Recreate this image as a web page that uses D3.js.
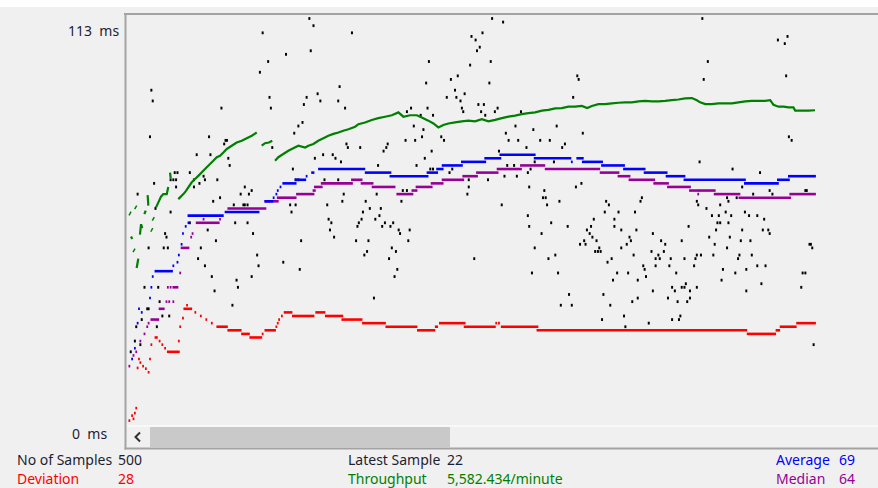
<!DOCTYPE html>
<html>
<head>
<meta charset="utf-8">
<script src="https://cdn.jsdelivr.net/npm/d3@7/dist/d3.min.js"></script>
<style>
  html, body { margin: 0; padding: 0; background: #f0f0f0; }
  svg { display: block; }
  text { font-family: "Noto Sans", "Liberation Sans", sans-serif; font-size: 14px; }
</style>
</head>
<body>
<svg id="chart" width="878" height="488"></svg>
<script>
// ---- data (sample index, response time in ms) ----
const sampleCount = 500;
const yMax = 113;
const yLabels = ["113\u00a0\u00a0ms", "0\u00a0\u00a0ms"];

// individual response times [sample, ms]
const samples = [
  [132,113],[135,111],[98,109],[163,109],[133,104],[115,103],[102,101],[96,98],[154,94],[17,93],
  [18,90],[103,91],[130,91],[138,92],[140,90],[153,90],[128,89],[104,88],[68,88],[158,88],
  [127,84],[124,83],[121,81],[16,80],[59,80],[71,79],[72,79],[70,78],[105,77],[159,78],
  [160,77],[50,75],[60,75],[73,74],[74,72],[142,75],[149,75],[151,74],[136,74],[155,73],
  [120,71],[34,70],[36,70],[31,68],[33,68],[45,70],[55,69],[56,68],[52,67],[48,68],
  [35,68],[65,68],[35,66],[19,67],[48,66],[122,68],[124,68],[143,68],[153,68],[7,64],
  [85,66],[90,65],[82,64],[88,64],[67,63],[62,62],[157,64],[156,62],[84,61],[85,61],
  [77,61],[87,61],[118,61],[122,61],[145,61],[20,60],[119,59],[31,59],[146,57],
  [27,53],[28,52],[45,56],[58,54],[78,56],[87,56],[91,53],[64,51],[26,49],[29,49],
  [15,49],[53,49],[51,46],[56,44],[94,47],[95,44],[90,41],[61,41],[79,40],[80,38],
  [63,37],[76,33],[12,38],[22,38],[23,34],[14,32],[15,32],[10,29],[25,30],[30,30],
  [6,27],[21,27],[2,20],[5,23],[9,22],[113,45],[125,43],[126,51],[148,56],[147,54],
  [150,52],[166,51],
  [265,113],[273,112],[250,108],[253,107],[258,109],[256,105],[254,104],[219,101],[249,100],[264,101],
  [240,97],[235,96],[217,95],[263,95],[327,97],[328,96],[238,93],[245,92],[232,91],[239,91],
  [242,90],[324,91],[255,89],[259,89],[243,88],[244,87],[257,87],[206,88],[218,88],[269,88],
  [267,87],[203,87],[222,86],[260,86],[286,87],[213,86],[208,83],[282,83],[312,83],[295,82],
  [215,82],[275,81],[214,80],[228,80],[331,81],[202,79],[209,79],[230,79],[277,79],[284,79],
  [300,79],[307,79],[189,78],[188,77],[169,77],[290,77],[316,77],[318,78],[186,76],[221,76],
  [270,76],[216,74],[182,72],[210,72],[281,72],[276,72],[296,73],[310,73],[220,71],[222,71],
  [234,70],[236,71],[291,70],[293,71],[274,69],[283,69],[262,68],[248,68],[330,67],[326,66],
  [248,66],[292,66],[181,64],[199,62],[200,65],[203,65],[303,65],[302,63],[304,63],[314,62],
  [247,64],[173,62],[176,60],[184,60],[305,61],[171,59],[170,57],[180,57],[183,58],[272,61],
  [291,58],
  [167,55],[168,56],[175,51],[172,47],[174,48],[179,35],[185,55],[187,56],[191,55],[193,56],
  [197,54],[198,53],[192,49],[195,48],[190,46],[196,43],[194,41],[204,51],[205,54],[252,46],
  [292,55],[301,53],[308,56],[296,49],[306,46],[311,47],[294,42],[313,42],[320,55],[321,36],
  [315,33],[323,33],[334,54],[329,50],[332,51],[333,50],
  [418,113],[473,107],[480,108],[478,106],[422,101],[419,96],[479,97],[481,80],[483,79],[416,73],
  [440,71],[460,70],[447,66],[455,64],[467,65],[469,64],[493,65],[494,65],[348,62],[350,61],
  [347,59],[357,59],[339,57],[354,57],[369,59],[373,62],[374,63],[414,62],[415,61],[421,60],
  [425,58],[430,58],[431,61],[435,59],[436,63],[437,62],[439,58],[443,63],[449,59],[452,58],
  [458,58],[463,57],
  [337,55],[336,53],[338,52],[341,51],[343,49],[340,48],[342,48],[344,48],[354,55],[359,54],
  [365,52],[366,51],[363,50],[359,49],[370,54],[368,47],[352,46],[349,45],[356,42],[364,42],
  [353,40],[346,36],[351,33],[345,29],[361,30],[362,27],[367,34],[371,35],[371,40],[376,43],
  [375,44],[377,41],[379,28],[382,53],[381,48],[384,46],[386,47],[384,44],[387,46],[388,51],
  [390,48],[391,50],[394,44],[395,46],[399,42],[382,37],[396,38],[398,37],[393,35],[400,34],
  [396,29],[401,29],[402,30],[403,38],[405,46],[405,38],[406,39],[403,51],[408,55],[409,37],
  [409,35],[407,34],[412,44],[413,46],[414,47],[417,47],[414,38],[423,52],[427,50],[426,47],
  [428,54],[429,56],[431,56],[437,56],[438,52],[436,49],[433,43],[432,40],[442,42],[444,46],
  [445,47],[446,51],[447,54],[450,43],[453,51],[454,47],[450,37],[458,44],[461,39],[462,54],
  [464,44],[466,54],[467,53],[491,42],[493,42],[490,38],[496,50],[497,50],[498,49],[499,22]
];

// running statistics as constant runs [firstSample, lastSample, ms]
const averageRuns = [
  [3,3,18],[5,5,21],[7,7,28],[8,8,32],[10,10,31],[16,16,35],[17,17,38],[18,18,41],[20,32,42.5],
  [33,33,44],[36,36,45],[37,37,47],[39,39,50],[40,40,53],[42,42,55],[44,44,56],[44,69,58],
  [71,95,59],[100,105,62],[106,106,63],[108,108,64],[109,109,65],[111,111,66],[113,122,67],
  [122,129,68],[130,130,69],[134,135,70],[139,172,71],[173,191,70],[191,218,69],[218,225,70],
  [225,229,71],[229,243,72],[243,260,73],[260,271,74],[271,296,75],[296,322,74],[323,323,73],
  [327,331,74],[331,345,73],[345,361,72],[361,376,71],[376,392,70],[392,405,69],[405,449,68],
  [449,473,67],[473,481,68],[481,500,69]
];
const medianRuns = [
  [1,1,16],[4,4,19],[6,6,20],[9,9,23],[12,12,25],[14,14,27],[15,15,28],[17,22,29],[23,26,32],
  [28,28,34],[30,30,34],[33,33,34],[29,29,38],[31,31,38],[33,36,38],[38,38,42],[39,44,49],
  [46,46,52],[47,47,53],[50,66,56],[55,55,57],[67,67,57],[73,100,60],[100,109,62],[109,122,63],
  [123,135,64],[135,136,65],[136,141,66],[141,163,67],[163,170,68],[170,178,67],[178,194,66],
  [196,207,64],[207,210,65],[210,221,66],[221,229,67],[229,244,68],[244,254,69],[254,269,70],
  [269,286,71],[286,303,72],[304,343,71],[344,357,70],[357,365,69],[365,383,68],[383,393,67],
  [393,409,66],[409,415,65],[415,415,64],[416,427,65],[427,445,64],[445,482,63],[482,500,64]
];
const deviationRuns = [
  [1,1,0.8],[3,3,2.2],[4,4,1.3],[5,5,2.9],[6,6,4.3],[7,7,15.5],[8,8,18],[9,9,17],[11,11,16],
  [13,13,15.3],[15,15,14.3],[16,16,18],[17,17,22],[20,21,24],[23,23,23],[25,25,22],[27,27,21],
  [29,37,20],[37,37,23],[38,38,27],[40,40,29.4],[41,46,32],[43,43,33],[49,49,31],[53,53,30],
  [57,57,29],[61,61,28],[65,72,27],[73,82,26],[83,88,25],[89,97,24],[98,98,25],[100,107,26],
  [108,108,27],[109,109,28],[110,110,29],[112,112,30],[114,119,31],[120,135,30],[137,143,31],
  [144,156,30],[156,170,29],[171,187,28],[188,210,27],[211,223,26],[224,225,27],[227,245,28],
  [245,267,27],[268,268,28],[270,270,28],[272,298,27],[298,450,26],[451,471,25],[472,474,26],
  [475,486,27],[487,500,28]
];

// throughput, plotted on the same vertical scale [sample, value]
const throughput = [
  [1.5,58.6],[2.2,52.2],[3.1,51.5],[4.4,48.3],[5.6,60.3],[6.3,43.4],[7.5,46],[8.7,52.7],[9.5,55.6],
  [10.4,54.5],[11.9,58.4],[12.9,59.4],[14.3,63.7],[14.8,60.8],[17.3,54],[18.4,57.1],[20.4,60.3],
  [22.1,61.7],[24,63.3],[25.7,64],[28.2,64],[29.3,66],[30.6,70],[31.1,68.4],
  [36.6,62.6],[40.3,64],[42.2,64.9],[43.9,65.9],[46.4,67.3],[48.8,68.2],[51.2,69.1],[54.8,70.5],
  [57.3,71.5],[59.7,72.4],[62.1,73.3],[64.6,74.3],[67,74.7],[69.4,75.6],[71.9,76.6],[75.5,77.5],
  [79.1,78.4],[82.8,78.9],[86.4,79.6],[90.1,80.3],[93.7,81.2],
  [97.3,77.5],[99.7,78.2],[102.6,78.4],[105,78.9],
  [107,73.3],[109.4,74.3],[113,75.2],[116.7,76.1],[120.3,76.8],[124,77.5],[128.9,77],[131.3,77.5],
  [134.9,78],[138.5,78.9],[142.2,79.6],[145.8,80.3],[149.5,80.8],[153.1,81.2],[156.7,81.7],
  [160.4,82.1],[165.3,82.8],[167.7,83.5],[172.5,84],[177.4,84.7],[182.2,85.2],[187.1,85.6],
  [192,86],[196.8,86.8],[200.4,85.6],[205.3,86],[210.2,86],[213.8,85.4],[218.6,84.5],[222.3,83.7],
  [225.9,82.6],[229.5,83.3],[233.2,83.7],[238.1,84],[242.9,84.3],[247.7,84.5],[252.6,84.3],
  [257.5,84.9],[262.3,84.3],[267.2,84.7],[272.1,85.2],[276.9,85.6],[281.7,85.9],[286.6,86.3],
  [291.4,86.6],[296.3,86.8],[301.2,87.3],[306,87.5],[310.9,87.9],[315.7,88],[320.5,88.4],
  [325.4,88.4],[330.3,88.6],[334.2,88],[337.6,88.6],[342.4,89.1],[347.3,89.1],[352.1,89.3],
  [356.9,89.5],[361.8,89.6],[366.7,89.6],[371.5,89.9],[376.4,90],[381.3,89.9],[386.1,89.9],
  [390.9,90],[395.8,90.2],[400.6,90.4],[405.5,90.7],[410.4,90.8],[414,90.2],[416.4,89.6],
  [420.1,89.1],[424.9,89.1],[429.7,89.3],[434.6,89.3],[439.5,89.3],[444.3,89.6],[449.2,89.9],
  [454.1,90],[458.9,90],[463.7,90],[467.4,90.2],[469.8,88.9],[473.4,88.4],[477.1,88.4],
  [480.7,88.2],[484.3,88.2],[485.6,87.3],[490.4,87.3],[495.3,87.3],[500,87.4]
];

// summary rows under the graph: [label, value, colour]
const summaryLeft = [["No of Samples", "500", "#1e1e32"], ["Deviation", "28", "#ff0000"]];
const summaryMiddle = [["Latest Sample", "22", "#1e1e32"], ["Throughput", "5,582.434/minute", "#008000"]];
const summaryRight = [["Average", "69", "#0000ff"], ["Median", "64", "#960096"]];

// ---- drawing ----
const svg = d3.select("#chart");
const W = 878;

const plot = { left: 126, top: 15, right: W, bottom: 425 };
const x = d3.scaleLinear().domain([0, sampleCount]).range([128, 815]);
const y = d3.scaleLinear().domain([0, yMax]).range([423.5, 18.5]);

// window chrome
svg.append("rect").attr("x", 0).attr("y", 0).attr("width", W).attr("height", 7).attr("fill", "#ffffff");
svg.append("rect").attr("x", plot.left).attr("y", plot.top)
  .attr("width", plot.right - plot.left).attr("height", plot.bottom - plot.top).attr("fill", "#f0f0f0");

// scrollbar under the graph
svg.append("line").attr("x1", 127).attr("x2", W).attr("y1", 426).attr("y2", 426)
  .attr("stroke", "#ffffff").attr("stroke-width", 1.2);
svg.append("rect").attr("x", 150).attr("y", 427).attr("width", 300).attr("height", 20).attr("fill", "#c9c9c9");
svg.append("path").attr("d", "M140,432.5 L135.5,437 L140,441.5")
  .attr("fill", "none").attr("stroke", "#303030").attr("stroke-width", 2);

// frame lines
svg.append("line").attr("x1", 124).attr("x2", W).attr("y1", 14).attr("y2", 14)
  .attr("stroke", "#a3a3a3").attr("stroke-width", 2);
svg.append("line").attr("x1", 125.5).attr("x2", 125.5).attr("y1", 13).attr("y2", 449.5)
  .attr("stroke", "#a3a3a3").attr("stroke-width", 2);
svg.append("line").attr("x1", 124.5).attr("x2", W).attr("y1", 448.5).attr("y2", 448.5)
  .attr("stroke", "#a3a3a3").attr("stroke-width", 2);

svg.append("clipPath").attr("id", "plotClip").append("rect")
  .attr("x", 127).attr("y", 15).attr("width", W - 127).attr("height", 410);
const g = svg.append("g").attr("clip-path", "url(#plotClip)");

// y labels
svg.append("text").attr("x", 68).attr("y", y(yMax) + 17.5).attr("fill", "#1e1e32").text(yLabels[0]);
svg.append("text").attr("x", 72).attr("y", y(0) + 15.5).attr("fill", "#1e1e32").text(yLabels[1]);

// raw samples
g.append("g").selectAll("rect").data(samples).join("rect")
  .attr("x", d => x(d[0]) - 1).attr("y", d => y(d[1]) - 1.4)
  .attr("width", 2).attr("height", 2.8).attr("fill", "#000");

// throughput: connected where consecutive readings are close
const tpSegments = [];
throughput.forEach((d, i) => {
  const p = throughput[i - 1];
  if (!p || d[0] - p[0] > 6 || Math.abs(d[1] - p[1]) > 3) tpSegments.push([d]);
  else tpSegments[tpSegments.length - 1].push(d);
});
const tpLine = d3.line().x(d => x(d[0])).y(d => y(d[1]));
const tpColor = "#008000";
g.append("g").selectAll("path").data(tpSegments.filter(s => s.length > 1)).join("path")
  .attr("d", tpLine).attr("fill", "none").attr("stroke", tpColor)
  .attr("stroke-width", 2.2);
g.append("g").selectAll("line").data(tpSegments.filter(s => s.length === 1).map(s => s[0])).join("line")
  .attr("x1", d => x(d[0]) - 1).attr("x2", d => x(d[0]) + 1)
  .attr("y1", d => y(d[1]) + 1.8).attr("y2", d => y(d[1]) - 1.8)
  .attr("stroke", tpColor).attr("stroke-width", 1.5);

// running statistics
function drawRuns(runs, color) {
  g.append("g").selectAll("line").data(runs).join("line")
    .attr("x1", d => x(d[0]) - 0.9).attr("x2", d => x(d[1]) + 0.9)
    .attr("y1", d => y(d[2])).attr("y2", d => y(d[2]))
    .attr("stroke", color).attr("stroke-width", 2.6);
}
drawRuns(deviationRuns, "#ff0000");
drawRuns(medianRuns, "#960096");
drawRuns(averageRuns, "#0000ff");

// summary texts
function drawSummary(rows, xLabel, xValue) {
  rows.forEach((r, i) => {
    const base = 465 + i * 19;
    svg.append("text").attr("x", xLabel).attr("y", base).attr("fill", r[2]).text(r[0]);
    svg.append("text").attr("x", xValue).attr("y", base).attr("fill", r[2]).text(r[1]);
  });
}
drawSummary(summaryLeft, 17, 118);
drawSummary(summaryMiddle, 348, 447);
drawSummary(summaryRight, 776, 839);
</script>
</body>
</html>
